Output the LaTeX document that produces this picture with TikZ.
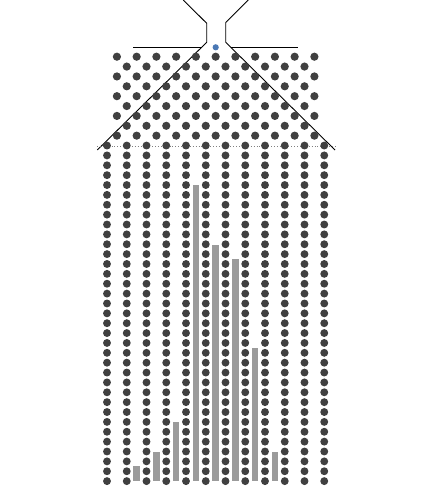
\documentclass[tikz,border=0pt]{standalone}
\usepackage{tikz}
\usetikzlibrary{calc}
\definecolor{cpeg}{HTML}{404040}
\definecolor{cbar}{HTML}{9B9B9B}
\definecolor{cball}{HTML}{4A78B4}
\definecolor{cdot}{HTML}{808080}

\begin{document}
\begin{tikzpicture}[
    x=1pt, y=-1pt,
    peg/.style={fill=cpeg, draw=none},
    wall/.style={draw=black, line width=0.9pt},
    bin/.style={fill=cbar, draw=none},
]
\useasboundingbox (0,0) rectangle (432,504);

% Funnel at the top
\draw[wall] (183.3,0) -- (206.7,23.3) -- (206.7,42.3) -- (97.3,150);
\draw[wall] (248.3,0) -- (225.7,22.6) -- (225.7,42.3) -- (335,150);

% Shelf lines beside the funnel neck
\draw[wall] (133.3,47.3) -- (201.7,47.3);
\draw[wall] (230.7,47.3) -- (298.3,47.3);

% Falling ball
\fill[cball] (215.7,47.3) circle (3.1);

% Triangle of pegs (alternating rows)
\foreach \i in {0,2,4,6,8} {
    \foreach \j in {0,...,10}
        \fill[peg] (116.9+19.75*\j, 56.7+9.87*\i) circle (4.1);
}
\foreach \i in {1,3,5,7} {
    \foreach \j in {1,...,10}
        \fill[peg] (107+19.75*\j, 56.7+9.87*\i) circle (4.1);
}

% Dotted line where the bins begin
\draw[cdot, dotted, line width=0.9pt] (97,146.7) -- (335,146.7);

% Columns of pegs forming the bins
\foreach \i in {9,...,43} {
    \foreach \k in {0,...,11}
        \fill[peg] (107+19.75*\k, 56.7+9.87*\i) circle (3.95);
}

% Collected balls per bin (bar heights)
\foreach \j/\top in {1/465.7, 2/452, 3/421.7, 4/185, 5/245, 6/259, 7/348.3, 8/452} {
    \fill[bin] (116.9+19.75*\j-3.3, \top) rectangle (116.9+19.75*\j+3.3, 481);
}

\end{tikzpicture}
\end{document}
